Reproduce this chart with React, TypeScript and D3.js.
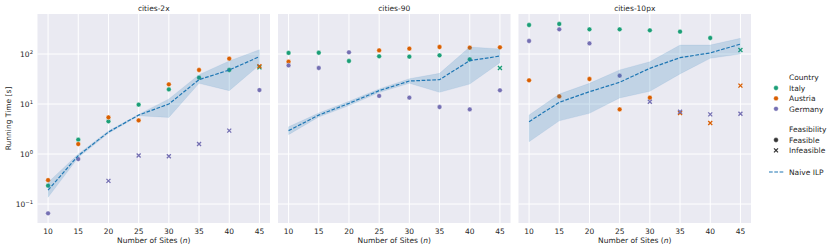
import * as d3 from 'd3';
import React from 'react';

const sites = [10, 15, 20, 25, 30, 35, 40, 45];
const panelTitles = ['cities-2x', 'cities-90', 'cities-10px'];
const countries = ['Italy', 'Austria', 'Germany'];
const countryColors = ['#1b9e77', '#d95f02', '#7570b3'];

// running times per country, one array per panel (null = not shown)
const italy2x = [0.233, 1.93, 4.5, 9.7, 19.6, 33.6, 47.9, 54];
const austria2x = [0.3, 1.58, 5.4, 4.7, 24.7, 47.9, 80.7, 56.7];
const germany2x = [0.065, 0.79, 0.29, 0.93, 0.9, 1.58, 2.93, 19];
const italy90 = [105, 106, 72.4, 90, 88.4, 94, 78, 52.5];
const austria90 = [70, null, null, 118, 128, 138, 134, 136];
const germany90 = [59, 52.5, 108, 14.5, 13.4, 8.7, 7.8, 18.8];
const italy10px = [380, 398, 311, 311, 297, 280, 209, 120];
const austria10px = [29.7, 14.2, 31.6, 7.8, 13.4, 6.6, 4.17, 23.3];
const germany10px = [182, 311, 163, 36.8, 11.1, 7.0, 6.2, 6.4];

// 1 = feasible, 0 = infeasible
const italy2xFeas = [1, 1, 1, 1, 1, 1, 1, 0];
const austria2xFeas = [1, 1, 1, 1, 1, 1, 1, 0];
const germany2xFeas = [1, 1, 0, 0, 0, 0, 0, 1];
const italy90Feas = [1, 1, 1, 1, 1, 1, 1, 0];
const austria90Feas = [1, 1, 1, 1, 1, 1, 1, 1];
const germany90Feas = [1, 1, 1, 1, 1, 1, 1, 1];
const italy10pxFeas = [1, 1, 1, 1, 1, 1, 1, 0];
const austria10pxFeas = [1, 1, 1, 1, 1, 0, 0, 0];
const germany10pxFeas = [1, 1, 1, 1, 0, 0, 0, 0];

// naive ILP mean and band
const ilp2x = [0.19, 0.93, 2.75, 6.0, 10, 30.7, 47.9, 88.4];
const ilp2xLo = [0.136, 0.85, 2.6, 5.8, 5.4, 25.9, 18.5, 60];
const ilp2xHi = [0.27, 1.0, 2.9, 6.2, 12.6, 38.6, 72.4, 122];
const ilp90 = [2.93, 6.0, 10.3, 18.5, 28.8, 30.7, 73.6, 91];
const ilp90Lo = [2.44, 5.5, 9.3, 17, 26, 17.1, 25, 67];
const ilp90Hi = [3.5, 6.6, 11.3, 20, 32, 41, 138, 126];
const ilp10px = [4.43, 10.8, 17.6, 27.2, 51.7, 84.5, 105, 158];
const ilp10pxLo = [1.76, 4.6, 6.5, 13.2, 17.9, 40, 82, 100];
const ilp10pxHi = [6.0, 15.8, 25.9, 48, 70, 151, 151, 206];

const yTicks = [0.1, 1, 10, 100];

const panels = [
  {
    times: [italy2x, austria2x, germany2x],
    feas: [italy2xFeas, austria2xFeas, germany2xFeas],
    ilp: ilp2x, lo: ilp2xLo, hi: ilp2xHi,
  },
  {
    times: [italy90, austria90, germany90],
    feas: [italy90Feas, austria90Feas, germany90Feas],
    ilp: ilp90, lo: ilp90Lo, hi: ilp90Hi,
  },
  {
    times: [italy10px, austria10px, germany10px],
    feas: [italy10pxFeas, austria10pxFeas, germany10pxFeas],
    ilp: ilp10px, lo: ilp10pxLo, hi: ilp10pxHi,
  },
];

const W = 831;
const H = 250;
const panelLeft = 37.5;
const panelW = 232.5;
const panelGap = 8;
const top = 14;
const bottom = 223;
const font = 'DejaVu Sans, sans-serif';
const fs = 7.5;
const textColor = '#262626';
const lineBlue = '#1f77b4';

const yScale = d3.scaleLog().domain([10 ** -1.38, 10 ** 2.8]).range([bottom, top]);

const Cross = ({ x, y, color, s = 2 }: { x: number; y: number; color: string; s?: number }) => (
  <path
    d={`M${x - s},${y - s}L${x + s},${y + s}M${x - s},${y + s}L${x + s},${y - s}`}
    stroke={color}
    strokeWidth={1.3}
  />
);

const Panel = ({ idx }: { idx: number }) => {
  const p = panels[idx];
  const x0 = panelLeft + idx * (panelW + panelGap);
  const xScale = d3.scaleLinear().domain([8.25, 46.75]).range([x0, x0 + panelW]);
  const rows = sites.map((s, i) => ({ s, m: p.ilp[i], lo: p.lo[i], hi: p.hi[i] }));
  const area = d3
    .area<(typeof rows)[number]>()
    .x((d) => xScale(d.s))
    .y0((d) => yScale(d.lo))
    .y1((d) => yScale(d.hi));
  const line = d3
    .line<(typeof rows)[number]>()
    .x((d) => xScale(d.s))
    .y((d) => yScale(d.m));

  return (
    <g>
      <rect x={x0} y={top} width={panelW} height={bottom - top} fill="#eaeaf2" />
      {sites.map((s) => (
        <line key={'gx' + s} x1={xScale(s)} x2={xScale(s)} y1={top} y2={bottom} stroke="#fff" strokeWidth={1} />
      ))}
      {yTicks.map((t) => (
        <line key={'gy' + t} x1={x0} x2={x0 + panelW} y1={yScale(t)} y2={yScale(t)} stroke="#fff" strokeWidth={1} />
      ))}
      {p.times.map((arr, ci) =>
        arr.map((v, i) => {
          if (v == null) return null;
          const cx = xScale(sites[i]);
          const cy = yScale(v);
          return p.feas[ci][i] ? (
            <circle key={`${ci}-${i}`} cx={cx} cy={cy} r={2.4} fill={countryColors[ci]} stroke="#fff" strokeWidth={0.4} />
          ) : (
            <Cross key={`${ci}-${i}`} x={cx} y={cy} color={countryColors[ci]} />
          );
        })
      )}
      <path d={area(rows) ?? ''} fill={lineBlue} fillOpacity={0.2} stroke={lineBlue} strokeOpacity={0.15} strokeWidth={0.6} />
      <path d={line(rows) ?? ''} fill="none" stroke={lineBlue} strokeWidth={1.2} strokeDasharray="3.7,1.6" />
      {sites.map((s) => (
        <text key={'tx' + s} x={xScale(s)} y={233.7} textAnchor="middle" fontSize={fs} fill={textColor}>
          {s}
        </text>
      ))}
      <text x={x0 + panelW / 2} y={10.6} textAnchor="middle" fontSize={fs} fill={textColor}>
        {panelTitles[idx]}
      </text>
      <text x={x0 + panelW / 2} y={242.7} textAnchor="middle" fontSize={fs} fill={textColor}>
        Number of Sites (<tspan fontStyle="italic">n</tspan>)
      </text>
    </g>
  );
};

const App = () => {
  const lx = 789;
  const mx = 776;
  return (
    <svg
      width={W}
      height={H}
      style={{ position: 'absolute', left: 0, top: 0, background: '#fff' }}
      fontFamily={font}
    >
      {panels.map((_, i) => (
        <Panel key={i} idx={i} />
      ))}
      {yTicks.map((t) => {
        const e = Math.round(Math.log10(t));
        return (
          <text key={'ty' + t} x={33} y={yScale(t) + 2.7} textAnchor="end" fontSize={fs} fill={textColor}>
            10
            <tspan dy={-3} fontSize={5.3}>
              {e < 0 ? '\u2212' + Math.abs(e) : e}
            </tspan>
          </text>
        );
      })}
      <text
        transform={`translate(10.5, ${(top + bottom) / 2}) rotate(-90)`}
        textAnchor="middle"
        fontSize={fs}
        fill={textColor}
      >
        Running Time [s]
      </text>

      {/* legend */}
      <text x={lx} y={79.7} fontSize={fs} fill={textColor}>Country</text>
      {countries.map((c, i) => (
        <g key={c}>
          <circle cx={mx} cy={88 + i * 10.4} r={2.4} fill={countryColors[i]} stroke="#fff" strokeWidth={0.4} />
          <text x={lx} y={88 + i * 10.4 + 2.7} fontSize={fs} fill={textColor}>{c}</text>
        </g>
      ))}
      <text x={lx} y={131.7} fontSize={fs} fill={textColor}>Feasibility</text>
      <circle cx={mx} cy={140} r={2.4} fill="#333" stroke="#fff" strokeWidth={0.4} />
      <text x={lx} y={142.7} fontSize={fs} fill={textColor}>Feasible</text>
      <Cross x={mx} y={150.4} color="#333" />
      <text x={lx} y={153.1} fontSize={fs} fill={textColor}>Infeasible</text>
      <line x1={769} x2={784} y1={172} y2={172} stroke={lineBlue} strokeWidth={1.2} strokeDasharray="3.7,1.6" />
      <text x={lx} y={174.7} fontSize={fs} fill={textColor}>Naive ILP</text>
    </svg>
  );
};

export default App;
